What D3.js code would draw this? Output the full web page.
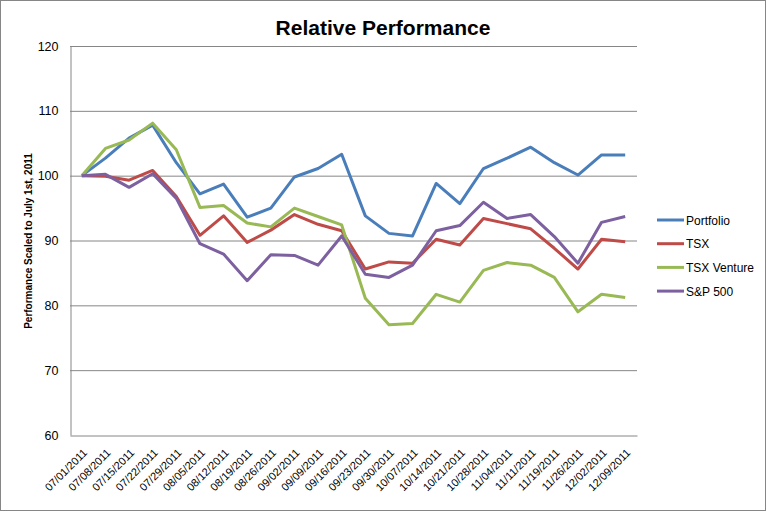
<!DOCTYPE html>
<html><head><meta charset="utf-8">
<script src="https://cdn.jsdelivr.net/npm/d3@7"></script>
<style>body{margin:0;background:#fff}svg{display:block}</style>
</head><body>
<script>
const categories = ["07/01/2011","07/08/2011","07/15/2011","07/22/2011","07/29/2011","08/05/2011","08/12/2011","08/19/2011","08/26/2011","09/02/2011","09/09/2011","09/16/2011","09/23/2011","09/30/2011","10/07/2011","10/14/2011","10/21/2011","10/28/2011","11/04/2011","11/11/2011","11/19/2011","11/26/2011","12/02/2011","12/09/2011"];
const portfolio = [100,102.7,105.8,107.8,102.0,97.2,98.7,93.6,95.0,99.8,101.1,103.3,93.8,91.1,90.7,98.8,95.7,101.1,102.7,104.4,102.0,100.1,103.2,103.2];
const tsx = [100,99.9,99.3,100.8,96.8,90.8,93.8,89.7,91.6,94.0,92.5,91.5,85.6,86.7,86.5,90.2,89.3,93.4,92.6,91.8,88.8,85.6,90.2,89.8];
const tsxVenture = [100,104.2,105.5,108.1,104.0,95.1,95.4,92.7,92.1,95.0,93.7,92.4,81.1,77.0,77.2,81.7,80.5,85.4,86.6,86.2,84.3,79.0,81.7,81.2];
const sp500 = [100,100.2,98.2,100.3,96.5,89.5,87.9,83.8,87.8,87.7,86.2,90.7,84.8,84.3,86.2,91.5,92.3,95.9,93.4,94.0,90.6,86.5,92.8,93.7];
const seriesNames = ["Portfolio","TSX","TSX Venture","S&P 500"];
const seriesColors = ["#4A7EBB","#BE4B48","#98B954","#7D60A0"];
const yTicks = [60,70,80,90,100,110,120];

const W=767,H=512;
const svg=d3.select("body").append("svg").attr("width",W).attr("height",H);
svg.append("rect").attr("x",0.5).attr("y",0.5).attr("width",W-2).attr("height",H-2)
  .attr("fill","#fff").attr("stroke","#868686");

const L=70,R=637,T=46,B=435;
const x=d3.scaleBand().domain(categories).range([L,R]);
const y=d3.scaleLinear().domain([60,120]).range([B,T]);

// gridlines
svg.append("g").selectAll("line").data(yTicks.filter(d=>d>60)).join("line")
  .attr("x1",L).attr("x2",R).attr("y1",d=>y(d)+0.5).attr("y2",d=>y(d)+0.5)
  .attr("stroke","#868686").attr("stroke-width",1);

// axes
const ya=svg.append("g").attr("transform",`translate(${L+0.5},0)`)
  .call(d3.axisLeft(y).tickValues(yTicks).tickSize(0).tickPadding(12));
ya.select(".domain").attr("stroke","#868686");
ya.selectAll("text").attr("font-family","Liberation Sans, Arial, sans-serif").attr("font-size",12.5).attr("fill","#000");

const xa=svg.append("g").attr("transform",`translate(0,${B+0.5})`)
  .call(d3.axisBottom(x).tickSize(0).tickPadding(0));
xa.select(".domain").attr("stroke","#868686");
xa.selectAll("text").attr("font-family","Liberation Sans, Arial, sans-serif").attr("font-size",11).attr("fill","#000")
  .attr("text-anchor","end").attr("dy",0)
  .attr("transform","translate(6,18) rotate(-45)");

// lines
const allSeries=[portfolio,tsx,tsxVenture,sp500];
const line=d3.line().x((d,i)=>x(categories[i])+x.bandwidth()/2).y(d=>y(d));
allSeries.forEach((s,k)=>{
  svg.append("path").datum(s).attr("d",line).attr("fill","none")
    .attr("stroke",seriesColors[k]).attr("stroke-width",3).attr("stroke-linejoin","round");
});

// title
svg.append("text").attr("x",383).attr("y",35).attr("text-anchor","middle")
  .attr("font-family","Liberation Sans, Arial, sans-serif").attr("font-weight","bold").attr("font-size",21)
  .text("Relative Performance");
svg.append("text").attr("transform","translate(32,241) rotate(-90)").attr("text-anchor","middle")
  .attr("font-family","Liberation Sans, Arial, sans-serif").attr("font-weight","bold").attr("font-size",10)
  .text("Performance Scaled to July 1st, 2011");

// legend
const lg=svg.append("g");
seriesNames.forEach((n,k)=>{
  const yy=220+k*23.7;
  lg.append("line").attr("x1",657).attr("x2",684).attr("y1",yy).attr("y2",yy)
    .attr("stroke",seriesColors[k]).attr("stroke-width",3);
  lg.append("text").attr("x",686).attr("y",yy+4.5).attr("font-family","Liberation Sans, Arial, sans-serif")
    .attr("font-size",12).text(n);
});
</script>
</body></html>
